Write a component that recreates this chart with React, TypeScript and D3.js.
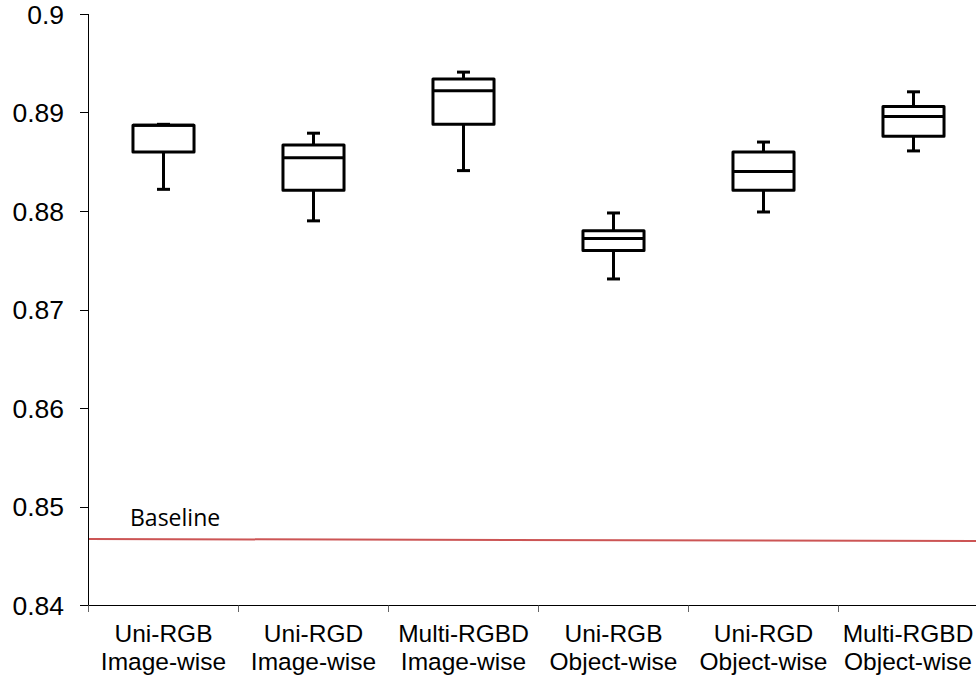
import React from "react";
import * as d3 from "d3";

const categoryLine1 = ["Uni-RGB", "Uni-RGD", "Multi-RGBD", "Uni-RGB", "Uni-RGD", "Multi-RGBD"];
const categoryLine2 = ["Image-wise", "Image-wise", "Image-wise", "Object-wise", "Object-wise", "Object-wise"];
const whiskerLow = [0.8822, 0.8790, 0.8841, 0.8731, 0.8799, 0.8861];
const q1 = [0.8860, 0.8821, 0.8888, 0.8760, 0.8821, 0.8876];
const median = [0.8887, 0.8854, 0.8922, 0.8772, 0.8840, 0.8896];
const q3 = [0.8887, 0.8867, 0.8934, 0.8780, 0.8860, 0.8906];
const whiskerHigh = [0.8888, 0.8879, 0.8941, 0.8798, 0.8870, 0.8921];
const yTicks = [0.84, 0.85, 0.86, 0.87, 0.88, 0.89, 0.9];
const yTickLabels = ["0.84", "0.85", "0.86", "0.87", "0.88", "0.89", "0.9"];
const baselineStart = 0.8467;
const baselineEnd = 0.8465;
const baselineLabel = "Baseline";

const W = 976;
const H = 678;

export default function App() {
  const x = d3.scaleBand<number>().domain(d3.range(categoryLine1.length)).range([88.5, 988.5]).padding(0);
  const y = d3.scaleLinear().domain([0.84, 0.9]).range([605, 14]);
  const bw = x.bandwidth();
  const boxW = bw * 0.407;
  const capW = 13;
  const axisX = 88.5;
  const axisY = 605.5;
  const lineGen = d3.line<[number, number]>().x((d) => d[0]).y((d) => d[1]);

  return (
    <svg
      width={W}
      height={H}
      style={{ position: "absolute", left: 0, top: 0, background: "#fff", overflow: "hidden" }}
      fontFamily="'Liberation Sans', Arial, sans-serif"
    >
      <rect x={0} y={0} width={W} height={H} fill="#fff" />
      {/* baseline */}
      <path
        d={lineGen([
          [axisX, y(baselineStart)],
          [W, y(baselineEnd)],
        ]) || ""}
        stroke="#cc5555"
        strokeWidth={2}
        fill="none"
      />
      <text x={130} y={526} fontFamily="'Open Sans', sans-serif" fontSize={23} fill="#000">
        {baselineLabel}
      </text>
      {/* y axis */}
      <line x1={axisX} x2={axisX} y1={y(0.9)} y2={axisY} stroke="#000" strokeWidth={1} />
      {yTicks.map((t, i) => (
        <g key={"yt" + i}>
          <line x1={80} x2={axisX} y1={Math.round(y(t)) + 0.5} y2={Math.round(y(t)) + 0.5} stroke="#000" strokeWidth={1} />
          <text x={64} y={y(t) + 9.5} textAnchor="end" fontSize={26.5} fill="#000">
            {yTickLabels[i]}
          </text>
        </g>
      ))}
      {/* x axis */}
      <line x1={axisX} x2={W} y1={axisY} y2={axisY} stroke="#000" strokeWidth={1} />
      {d3.range(categoryLine1.length).map((i) => (
        <line key={"xt" + i} x1={x(i)!} x2={x(i)!} y1={axisY} y2={612} stroke="#666" strokeWidth={1} />
      ))}
      {categoryLine1.map((c, i) => {
        const cx = Math.min(x(i)! + bw / 2, W - 68);
        return (
          <text key={"xl" + i} x={cx} textAnchor="middle" fontSize={24.5} fill="#000">
            <tspan x={cx} y={642}>{c}</tspan>
            <tspan x={cx} y={670}>{categoryLine2[i]}</tspan>
          </text>
        );
      })}
      {/* boxes */}
      {categoryLine1.map((_, i) => {
        const cx = x(i)! + bw / 2;
        return (
          <g key={"box" + i} stroke="#000" strokeWidth={3} fill="none" strokeLinejoin="round">
            <line x1={cx} x2={cx} y1={y(whiskerHigh[i])} y2={y(q3[i])} />
            <line x1={cx} x2={cx} y1={y(q1[i])} y2={y(whiskerLow[i])} />
            <line x1={cx - capW / 2} x2={cx + capW / 2} y1={y(whiskerHigh[i])} y2={y(whiskerHigh[i])} />
            <line x1={cx - capW / 2} x2={cx + capW / 2} y1={y(whiskerLow[i])} y2={y(whiskerLow[i])} />
            <rect x={cx - boxW / 2} y={y(q3[i])} width={boxW} height={y(q1[i]) - y(q3[i])} fill="#fff" />
            <line x1={cx - boxW / 2} x2={cx + boxW / 2} y1={y(median[i])} y2={y(median[i])} />
          </g>
        );
      })}
    </svg>
  );
}
